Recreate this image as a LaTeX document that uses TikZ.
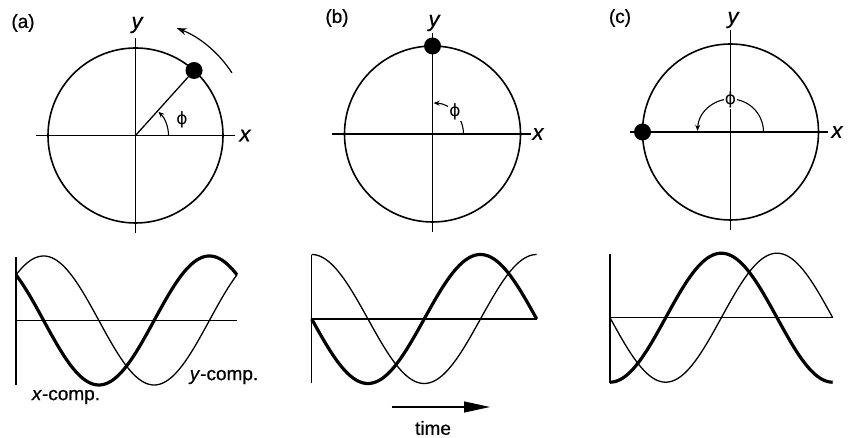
\documentclass[tikz,border=0pt]{standalone}
\usepackage{fontspec}
\setmainfont[FakeBold=0.6]{Liberation Sans}
\newfontfamily\phifont{DejaVu Sans}
\usetikzlibrary{arrows.meta,calc}
\begin{document}
\begin{tikzpicture}[x=1pt,y=1pt,
  axis/.style={line width=1.1pt},
  circ/.style={line width=1.6pt},
  thinwave/.style={line width=1.3pt},
  thickwave/.style={line width=3.2pt},
  dotball/.style={circle,fill=black,inner sep=0pt,minimum size=17pt},
  lbl/.style={font=\fontsize{19}{19}\selectfont},
  axlbl/.style={font=\fontsize{22}{22}\selectfont\itshape},
  philbl/.style={font=\fontsize{17}{17}\phifont},
  angarc/.style={line width=1.1pt,-{Stealth[length=6pt,width=5pt]}}
]
\useasboundingbox (0,0) rectangle (851,438);

% ---------- Panel (a) circle ----------
\coordinate (ca) at (135.5,302.5);
\draw[circ] (ca) circle (87.5);
\draw[axis] (36,302.5) coordinate (axl) -- (235,302.5) coordinate (axr);
\draw[axis] (135.5,205) coordinate (ayb) -- (135.5,400) coordinate (ayt);
\node[lbl] (la) at (23,415) {(a)};
\node[axlbl] (xa) at (245,302.5) {x};
\node[axlbl] (ya) at (137,413) {y};
\node[dotball] (da) at ($(ca)+(48:87.5)$) {};
\draw[line width=1.3pt] (ca) -- (da);
\draw[angarc] ($(ca)+(0:33)$) arc[start angle=0,end angle=46,radius=33];
\node[philbl] (pa) at (182,318) {ϕ};
\draw[line width=1.2pt,-{Stealth[length=10pt,width=7pt]}] ($(ca)+(33:115)$) arc[start angle=33,end angle=69,radius=115];

% ---------- Panel (b) circle ----------
\coordinate (cb) at (432.5,304);
\draw[circ] (cb) circle (88);
\draw[axis] (331.7,304) coordinate (bxl) -- (530.7,304) coordinate (bxr);
\draw[axis] (432.5,206) coordinate (byb) -- (432.5,405) coordinate (byt);
\node[lbl] (lb) at (337,420) {(b)};
\node[axlbl] (xb) at (538,304) {x};
\node[axlbl] (yb) at (434,415) {y};
\node[dotball] (db) at ($(cb)+(90:88)$) {};
\draw[angarc] ($(cb)+(0:31)$) arc[start angle=0,end angle=88,radius=31];
\node[philbl,fill=white,inner sep=1pt] (pb) at (455,326) {ϕ};

% ---------- Panel (c) circle ----------
\coordinate (cc) at (730.5,306);
\draw[circ] (cc) circle (88);
\draw[axis] (630,306) coordinate (cxl) -- (828,306) coordinate (cxr);
\draw[axis] (730.5,208) coordinate (cyb) -- (730.5,408) coordinate (cyt);
\node[lbl] (lc) at (620,420) {(c)};
\node[axlbl] (xc) at (837,306) {x};
\node[axlbl] (yc) at (733,418) {y};
\node[dotball] (dc) at ($(cc)+(180:88)$) {};
\draw[line width=2.6pt] (cc) -- (dc);
\draw[angarc] ($(cc)+(0:33)$) arc[start angle=0,end angle=178,radius=33];
\node[philbl,fill=white,inner sep=1pt] (pc) at (730.5,338) {ϕ};

% ---------- Panel (a) waves ----------
\draw[axis] (16,53) coordinate (wav0) -- (16,181.3) coordinate (wav1);
\draw[axis] (16,117.5) coordinate (wah0) -- (237,117.5) coordinate (wah1);
\draw[thinwave] plot[domain=0:360,samples=120,variable=\t] ({16+221*(\t/360)},{117.5+64.5*sin(45+\t)});
\draw[thickwave] plot[domain=0:360,samples=120,variable=\t] ({16+221*(\t/360)},{117.5+64.5*cos(45+\t)});
\node[lbl] (xcomp) at (66,41) {\textit{x}-comp.};
\node[lbl] (ycomp) at (224,61) {\textit{y}-comp.};

% ---------- Panel (b) waves ----------
\draw[axis] (311.7,54.7) coordinate (wbv0) -- (311.7,183) coordinate (wbv1);
\draw[axis] (311.7,119) coordinate (wbh0) -- (536.7,119) coordinate (wbh1);
\draw[thinwave] plot[domain=0:360,samples=120,variable=\t] ({311.7+225*(\t/360)},{119+64.5*sin(90+\t)});
\draw[thickwave] plot[domain=0:360,samples=120,variable=\t] ({311.7+225*(\t/360)},{119+64.5*cos(90+\t)});
\coordinate (t0) at (391.7,31);
\coordinate (t1) at (490,31);
\draw[line width=1.2pt,-{Triangle[length=26pt,width=11pt]}] (t0) -- (t1);
\node[lbl] (time) at (433,10) {time};

% ---------- Panel (c) waves ----------
\draw[axis] (610,54.7) coordinate (wcv0) -- (610,184) coordinate (wcv1);
\draw[axis] (610,120.3) coordinate (wch0) -- (832.7,120.3) coordinate (wch1);
\draw[thinwave] plot[domain=0:360,samples=120,variable=\t] ({610+222.7*(\t/360)},{120.3+64.5*sin(180+\t)});
\draw[thickwave] plot[domain=0:360,samples=120,variable=\t] ({610+222.7*(\t/360)},{120.3+64.5*cos(180+\t)});
\end{tikzpicture}
\end{document}
